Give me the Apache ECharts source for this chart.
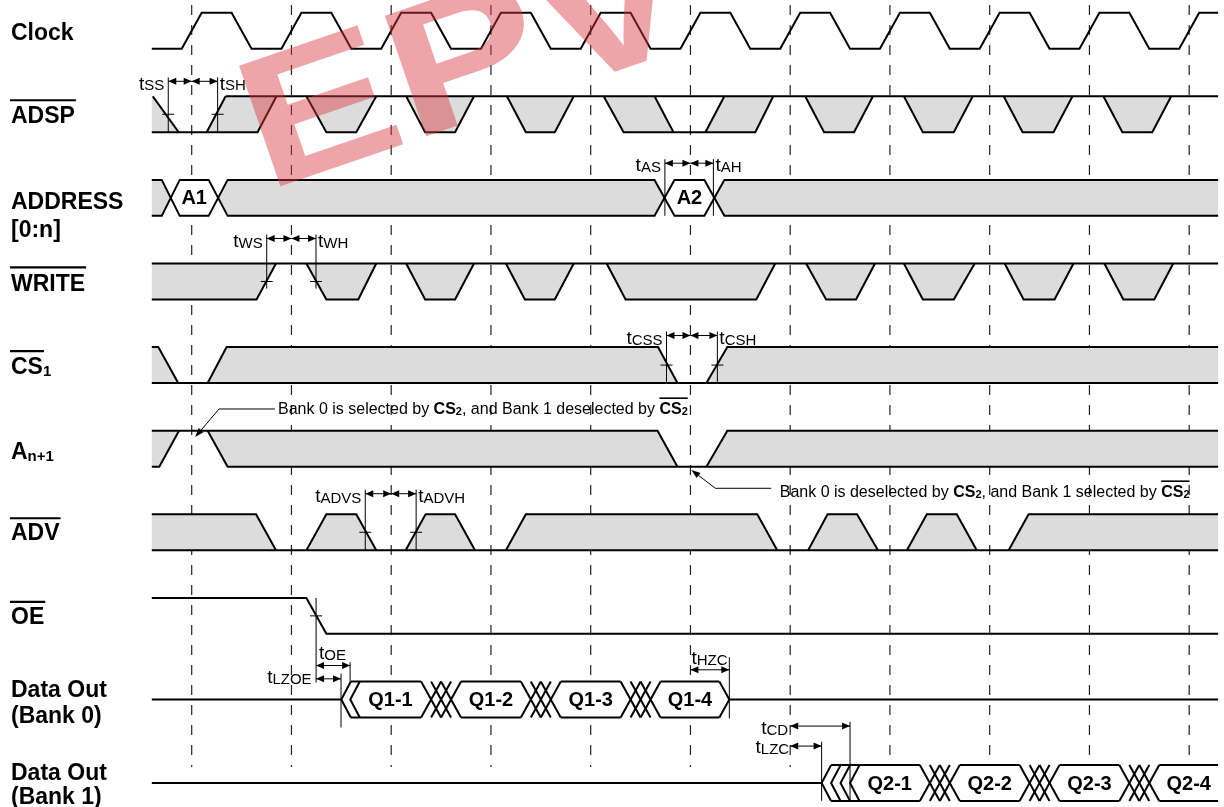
<!DOCTYPE html>
<html>
<head>
<meta charset="utf-8">
<script src="https://cdn.jsdelivr.net/npm/echarts@6/dist/echarts.min.js"></script>
<style>
html,body{margin:0;padding:0;background:#fff;}
#chart{width:1224px;height:807px;}
</style>
</head>
<body>
<div id="chart"></div>
<script>
// ================= DATA (time in units, one clock period = 10) =================
const laneLabels = ['Clock','ADSP','ADDRESS [0:n]','WRITE','CS1','An+1','ADV','OE','Data Out (Bank 0)','Data Out (Bank 1)'];
const T_START = -4, T_END = 102.9;
const gridTimes = [0,10,20,30,40,50,60,70,80,90,100];
const clockRise = [0,10,20,30,40,50,60,70,80,90,100];
const clockFall = [5,15,25,35,45,55,65,75,85,95];

// levels: 1 = high, 0 = low, 0.5 = mid
const adspFills = [
  [[-4,1],[-3.9,1],[-1.3,0],[-4,0]],
  [[1.5,0],[3.4,1],[8.5,1],[6.6,0]],
  [[41.3,1],[46.4,1],[48.3,0],[43.3,0]],
  [[51.5,0],[53.4,1],[58.3,1],[56.5,0]]
];
const adspPulses = [[11.5,13.5,16.5,18.5],[21.5,23.4,26.4,28.3],[31.6,33.5,36.4,38.3],[61.5,63.4,66.4,68.3],[71.4,73.3,76.4,78.3],[81.4,83.3,86.4,88.3],[91.4,93.3,96.3,98.2]];
const adspLines = [
  [[3.4,1],[102.9,1]],
  [[-4,0],[6.6,0],[8.5,1]],
  [[-3.9,1],[-1.3,0]],
  [[1.5,0],[3.4,1]],
  [[41.3,1],[43.3,0],[56.5,0],[58.3,1]],
  [[46.4,1],[48.3,0]],
  [[51.5,0],[53.4,1]]
];

const addrFills = [
  [[-4,1],[-3.0,1],[-2.1,0.5],[-3.0,0],[-4,0]],
  [[2.65,0.5],[3.6,1],[46.4,1],[47.4,0.5],[46.4,0],[3.6,0]],
  [[52.4,0.5],[53.4,1],[102.9,1],[102.9,0],[53.4,0]]
];
const addrHex = [
  [[-2.1,0.5],[-1.2,1],[1.7,1],[2.65,0.5],[1.7,0],[-1.2,0]],
  [[47.4,0.5],[48.4,1],[51.4,1],[52.4,0.5],[51.4,0],[48.4,0]]
];
const addrLines = [
  [[-4,1],[-3.0,1],[-1.2,0],[1.7,0],[3.6,1],[46.4,1],[48.4,0],[51.4,0],[53.4,1],[102.9,1]],
  [[-4,0],[-3.0,0],[-1.2,1],[1.7,1],[3.6,0],[46.4,0],[48.4,1],[51.4,1],[53.4,0],[102.9,0]]
];
const addrValues = ['A1','A2'];
const addrValueT = [0.25, 49.9];

const writeFills = [[[-4,1],[8.45,1],[6.5,0],[-4,0]]];
const writePulses = [[11.5,13.5,16.7,18.5],[21.5,23.4,26.4,28.3],[31.5,33.4,36.4,38.3],[41.6,43.5,56.6,58.5],[61.6,63.6,66.6,68.5],[71.4,73.3,76.4,78.5],[81.5,83.4,86.5,88.4],[91.5,93.4,96.5,98.4]];
const writeLines = [[[-4,1],[102.9,1]],[[-4,0],[6.5,0],[8.45,1]]];

const cs1Fills = [
  [[-4,1],[-3.35,1],[-1.35,0],[-4,0]],
  [[1.6,0],[3.5,1],[46.75,1],[48.7,0]],
  [[51.6,0],[53.7,1],[102.9,1],[102.9,0]]
];
const cs1Lines = [
  [[-4,0],[102.9,0]],
  [[-4,1],[-3.35,1],[-1.35,0]],
  [[1.6,0],[3.5,1],[46.75,1],[48.7,0]],
  [[51.6,0],[53.7,1],[102.9,1]]
];

const anFills = [
  [[-4,1],[-1.27,1],[-3.25,0],[-4,0]],
  [[1.6,1],[46.7,1],[48.7,0],[3.6,0]],
  [[51.6,0],[53.7,1],[102.9,1],[102.9,0]]
];
const anLines = [
  [[-4,1],[46.7,1],[48.7,0]],
  [[-4,0],[-3.25,0],[-1.27,1]],
  [[1.6,1],[3.6,0],[102.9,0]],
  [[51.6,0],[53.7,1],[102.9,1]]
];

const advFills = [
  [[-4,1],[6.45,1],[8.45,0],[-4,0]],
  [[81.9,0],[83.9,1],[102.9,1],[102.9,0]]
];
const advPulses = [[11.5,13.5,16.5,18.5],[21.45,23.45,26.4,28.4],[31.5,33.5,56.7,58.7],[61.8,63.75,66.7,68.8],[71.7,73.7,76.7,78.7]];
const advLines = [[[-4,0],[102.9,0]],[[-4,1],[6.45,1],[8.45,0]],[[81.9,0],[83.9,1],[102.9,1]]];

const oeLines = [[[-4,1],[11.5,1],[13.5,0],[102.9,0]]];

const bank0Chevrons = [15.0, 15.9];
const bank0Valid = [[15.95,23],[27,33],[37,43],[47,52.9]];
const bank0End = 53.9;
const bank0Values = ['Q1-1','Q1-2','Q1-3','Q1-4'];
const bank1Chevrons = [63.15, 64.1, 65.05, 66.0];
const bank1Valid = [[64.1,73],[77,83],[87,93],[97,102.9]];
const bank1End = null;
const bank1Values = ['Q2-1','Q2-2','Q2-3','Q2-4'];

// setup / hold markers: lane, left edge, clock edge, right edge, left label, right label
const setupHoldMarks = [
  [1, -2.35, 0, 2.6, 'SS', 'SH'],
  [2, 47.44, 50, 52.3, 'AS', 'AH'],
  [3, 7.52, 10, 12.46, 'WS', 'WH'],
  [4, 47.6, 50, 52.7, 'CSS', 'CSH'],
  [6, 17.4, 20, 22.5, 'ADVS', 'ADVH']
];
// span markers: label, from, to, lane
const spanMarks = [
  ['OE', 12.47, 15.88, 8],
  ['LZOE', 12.47, 14.97, 8],
  ['HZC', 50, 53.9, 8],
  ['CD', 60, 66.0, 9],
  ['LZC', 60, 63.15, 9]
];
const oeCrossT = 12.47;

const note1Parts = [['Bank 0 is selected by ','n'],['CS','b'],['2','s'],[', and Bank 1 deselected by ','n'],['CS','b'],['2','s']];
const note2Parts = [['Bank 0 is deselected by ','n'],['CS','b'],['2','s'],[', and Bank 1 selected by ','n'],['CS','b'],['2','s']];
const noteTipT = [0.35, 50.1];
const noteElbowT = [2.74, 52.5];
const noteLineEndT = [8.35, 58.1];
const noteTextT = [8.65, 58.95];

// ================= STYLE / LAYOUT =================
const FONT = '"Liberation Sans", Arial, Helvetica, sans-serif';
const GRAY = '#dcdcdc';
const H = 0.43;          // lane height (lane units)
const W_CHEV = 0.95;     // chevron width (time units)
const lvl = (lane, level) => lane + (1 - level) * H;

const setupHoldStyle = [
  {dy:-15, cross:true, end:0}, {dy:-16.7, cross:false, end:0}, {dy:-25, cross:true, end:0.3},
  {dy:-11.6, cross:true, end:0}, {dy:-20.6, cross:true, end:0}
];
const spanStyle = [
  {ay:-16, ly:-27.7, lx:3, align:'left', vFrom:-19.3, vTo:0},
  {ay:-2.7, ly:-3.7, lx:-4.5, align:'right', vFrom:-8, vTo:46},
  {ay:-11.7, ly:-22.7, lx:1, align:'left', vFrom:-24.3, vTo:37},
  {ay:-39, ly:-36.7, lx:-2, align:'right', vFrom:-43.3, vTo:35.7},
  {ay:-19, ly:-17.7, lx:-1, align:'right', vFrom:-23.3, vTo:35.7}
];
const noteStyle = [
  {lane:5, tipDy:6.3, elbowDy:-21.7, textDy:-21.0},
  {lane:5, tipDy:39.3, elbowDy:57.6, textDy:62.0}
];
const laneLabelLines = [
  [['{b|Clock}', 2.5]],
  [['{b|ADSP}', 2.5]],
  [['{b|ADDRESS}', 4.5], ['{b|[0:n]}', 33]],
  [['{b|WRITE}', 3]],
  [['{b|CS}{s|1}', 3]],
  [['{b|A}{s|n+1}', 4]],
  [['{b|ADV}', 1]],
  [['{b|OE}', 1.5]],
  [['{b|Data Out}', -9], ['{b|(Bank 0)}', 17]],
  [['{b|Data Out}', -9.5], ['{b|(Bank 1)}', 14.5]]
];
const overlined = {1:'ADSP', 3:'WRITE', 4:'CS', 6:'ADV', 7:'OE'};

// ================= BUILD SHAPES =================
const fillShapes = [], whiteShapes = [], lineShapes = [], valueLabels = [];
const addF = (lane, list) => list.forEach(p => fillShapes.push({lane, pts:p}));
const addW = (lane, list) => list.forEach(p => whiteShapes.push({lane, pts:p}));
const addL = (lane, list) => list.forEach(p => lineShapes.push({lane, pts:p}));
const down = q => [[q[0],1],[q[1],0],[q[2],0],[q[3],1]];
const up = q => [[q[0],0],[q[1],1],[q[2],1],[q[3],0]];

(function buildClock(){
  const ev = clockRise.map(t=>[t,1]).concat(clockFall.map(t=>[t,0])).sort((a,b)=>a[0]-b[0]);
  const p = [[T_START,0]];
  let last = 0;
  ev.forEach(([t,to]) => { p.push([t-1, 1-to],[t+1, to]); last = to; });
  p.push([T_END, last]);
  addL(0, [p]);
})();

addF(1, adspFills); addF(1, adspPulses.map(down)); addL(1, adspLines); addL(1, adspPulses.map(down));
addF(2, addrFills); addW(2, addrHex); addL(2, addrLines);
addrValues.forEach((v,i)=>valueLabels.push({lane:2, t:addrValueT[i], text:v}));
addF(3, writeFills); addF(3, writePulses.map(down)); addL(3, writeLines); addL(3, writePulses.map(down));
addF(4, cs1Fills); addL(4, cs1Lines);
addF(5, anFills); addL(5, anLines);
addF(6, advFills); addF(6, advPulses.map(up)); addL(6, advLines); addL(6, advPulses.map(up));
addL(7, oeLines);

function addBus(lane, chev, segs, endT, values){
  const w = W_CHEV;
  const lastE = segs[segs.length-1][1];
  const body = [[chev[0],0.5],[chev[0]+w,1],[lastE,1]];
  if (endT != null) body.push([endT,0.5]); else body.push([lastE,0.5]);
  body.push([lastE,0],[chev[0]+w,0]);
  addW(lane, [body]);
  addL(lane, [[[T_START,0.5],[chev[0],0.5]]]);
  chev.forEach(v => addL(lane, [[[v+w,1],[v,0.5],[v+w,0]]]));
  segs.forEach((s,i) => {
    addL(lane, [[[s[0],1],[s[1],1]], [[s[0],0],[s[1],0]]]);
    if (i < segs.length-1) {
      const a = s[1], b = segs[i+1][0], xw = 2, step = (b-a-xw)/2;
      for (let k=0;k<3;k++){
        const x0 = a + k*step;
        addL(lane, [[[x0,1],[x0+xw,0]], [[x0,0],[x0+xw,1]]]);
      }
    }
    const s0 = i===0 ? chev[chev.length-1] + w : s[0];
    valueLabels.push({lane, t:(s0+s[1])/2, text:values[i]});
  });
  if (endT != null) {
    addL(lane, [[[lastE,1],[endT,0.5],[lastE,0]], [[endT,0.5],[T_END,0.5]]]);
  }
}
addBus(8, bank0Chevrons, bank0Valid, bank0End, bank0Values);
addBus(9, bank1Chevrons, bank1Valid, bank1End, bank1Values);

// ================= HELPERS =================
const mctx = document.createElement('canvas').getContext('2d');
function textW(str, font){ mctx.font = font; return mctx.measureText(str).width; }
const pts = (api, lane, list) => list.map(p => api.coord([p[0], lvl(lane, p[1])]));
function hline(x1, x2, y, w){ return {type:'line', shape:{x1, y1:y, x2, y2:y}, style:{stroke:'#000', lineWidth:w||1}}; }
function vline(x, y1, y2){ return {type:'line', shape:{x1:x, y1, x2:x, y2}, style:{stroke:'#000', lineWidth:1}}; }
function arrow(x1, x2, y){
  const L = 8, hw = 3.5;
  return [hline(x1, x2, y),
    {type:'polygon', shape:{points:[[x1,y],[x1+L,y-hw],[x1+L,y+hw]]}, style:{fill:'#000'}},
    {type:'polygon', shape:{points:[[x2,y],[x2-L,y-hw],[x2-L,y+hw]]}, style:{fill:'#000'}}];
}
const tRich = {
  t:{fontSize:19, fontFamily:FONT, fill:'#000', verticalAlign:'bottom'},
  s:{fontSize:15, fontFamily:FONT, fill:'#000', verticalAlign:'bottom'}
};
function tLabel(x, y, sub, align){
  return {type:'text', x, y, style:{text:'{t|t}{s|'+sub+'}', rich:tRich, align, verticalAlign:'middle', fill:'#000'}};
}
const noteRich = {
  n:{fontSize:16, fontFamily:FONT, fill:'#000', verticalAlign:'bottom'},
  b:{fontSize:16, fontFamily:FONT, fontWeight:'bold', fill:'#000', verticalAlign:'bottom'},
  s:{fontSize:11, fontFamily:FONT, fontWeight:'bold', fill:'#000', verticalAlign:'bottom'}
};
const noteFont = {n:'16px '+FONT, b:'bold 16px '+FONT, s:'bold 11px '+FONT};

// ================= RENDERERS =================
function renderDashed(params, api){
  const t = gridTimes[params.dataIndex];
  const a = api.coord([t, -0.092]), b = api.coord([t, 9.023]);
  return {type:'line', shape:{x1:a[0], y1:a[1], x2:b[0], y2:b[1]}, style:{stroke:'#222', lineWidth:1.2, lineDash:[10,10]}};
}
function renderFill(params, api){
  const s = fillShapes[params.dataIndex];
  return {type:'polygon', shape:{points:pts(api, s.lane, s.pts)}, style:{fill:GRAY}};
}
function renderWhite(params, api){
  const s = whiteShapes[params.dataIndex];
  return {type:'polygon', shape:{points:pts(api, s.lane, s.pts)}, style:{fill:'#fff'}};
}
function renderLine(params, api){
  const s = lineShapes[params.dataIndex];
  return {type:'polyline', shape:{points:pts(api, s.lane, s.pts)}, style:{stroke:'#000', lineWidth:2, fill:'none'}};
}
function renderValue(params, api){
  const v = valueLabels[params.dataIndex];
  const p = api.coord([v.t, lvl(v.lane, 0.5)]);
  return {type:'text', x:p[0], y:p[1]+1, style:{text:v.text, font:'bold 20px '+FONT, fill:'#000', align:'center', verticalAlign:'middle'}};
}
function renderSetupHold(params, api){
  const [lane, tl, tc, tr, ll, rl] = setupHoldMarks[params.dataIndex];
  const st = setupHoldStyle[params.dataIndex];
  const top = api.coord([tc, lane])[1];
  const ay = top + st.dy;
  const xl = api.coord([tl, lane])[0], xc = api.coord([tc, lane])[0], xr = api.coord([tr, lane])[0];
  const yEnd = api.coord([tc, lvl(lane, st.end)])[1];
  const ym = api.coord([tc, lvl(lane, 0.5)])[1];
  const ch = [vline(xl, ay-4, yEnd), vline(xr, ay-4, yEnd)];
  ch.push(...arrow(xl, xc, ay), ...arrow(xc, xr, ay));
  if (st.cross) { ch.push(hline(xl-6, xl+6, ym), hline(xr-6, xr+6, ym)); }
  ch.push(tLabel(xl-4, ay+3, ll, 'right'), tLabel(xr+2, ay+3, rl, 'left'));
  return {type:'group', children:ch};
}
function renderSpan(params, api){
  const [lab, t1, t2, lane] = spanMarks[params.dataIndex];
  const st = spanStyle[params.dataIndex];
  const top = api.coord([t1, lane])[1];
  const x1 = api.coord([t1, lane])[0], x2 = api.coord([t2, lane])[0];
  const ch = [vline(x2, top+st.vFrom, top+st.vTo)];
  ch.push(...arrow(x1, x2, top+st.ay));
  ch.push(tLabel(x1+st.lx, top+st.ly, lab, st.align));
  if (params.dataIndex === 0) {
    const p = api.coord([oeCrossT, lvl(7, 0.5)]);
    const y7 = api.coord([oeCrossT, 7])[1];
    ch.push(vline(p[0], y7, top+1), hline(p[0]-6, p[0]+6, p[1]));
  }
  return {type:'group', children:ch};
}
function renderNote(params, api){
  const i = params.dataIndex;
  const parts = i === 0 ? note1Parts : note2Parts;
  const st = noteStyle[i];
  const top = api.coord([0, st.lane])[1];
  const tip = [api.coord([noteTipT[i], st.lane])[0], top + st.tipDy];
  const elb = [api.coord([noteElbowT[i], st.lane])[0], top + st.elbowDy];
  const lend = api.coord([noteLineEndT[i], st.lane])[0];
  const tx = api.coord([noteTextT[i], st.lane])[0];
  const ty = top + st.textDy;
  const dx = tip[0]-elb[0], dy = tip[1]-elb[1], len = Math.hypot(dx, dy);
  const ux = dx/len, uy = dy/len, L = 9, hw = 3.2;
  const bx = tip[0]-ux*L, by = tip[1]-uy*L;
  const ch = [
    {type:'polyline', shape:{points:[[lend, elb[1]], elb, [bx, by]]}, style:{stroke:'#000', lineWidth:1, fill:'none'}},
    {type:'polygon', shape:{points:[tip, [bx-uy*hw, by+ux*hw], [bx+uy*hw, by-ux*hw]]}, style:{fill:'#000'}}
  ];
  const text = parts.map(p => '{'+p[1]+'|'+p[0]+'}').join('');
  ch.push({type:'text', x:tx, y:ty, style:{text, rich:noteRich, align:'left', verticalAlign:'middle'}});
  let pre = 0;
  for (let k=0;k<parts.length-2;k++) pre += textW(parts[k][0], noteFont[parts[k][1]]);
  const wcs = textW('CS', noteFont.b) + textW('2', noteFont.s);
  ch.push(hline(tx+pre, tx+pre+wcs, ty-11.5, 1.6));
  return {type:'group', children:ch};
}
function renderLaneLabel(params, api){
  const lane = params.dataIndex;
  const mid = api.coord([T_START, lvl(lane, 0.5)])[1];
  const ch = [];
  laneLabelLines[lane].forEach(([txt, dy]) => {
    ch.push({type:'text', x:11, y:mid+dy, style:{text:txt, align:'left', verticalAlign:'middle',
      rich:{b:{fontSize:23, fontWeight:'bold', fontFamily:FONT, fill:'#000', verticalAlign:'bottom'},
            s:{fontSize:15, fontWeight:'bold', fontFamily:FONT, fill:'#000', verticalAlign:'bottom'}}}});
  });
  if (overlined[lane]) {
    const w = textW(overlined[lane], 'bold 23px '+FONT);
    ch.push(hline(10, 11+w+1, mid-14, 2.2));
  }
  return {type:'group', children:ch};
}

const myChart = echarts.init(document.getElementById('chart'));
const base = {type:'custom', coordinateSystem:'cartesian2d', clip:false, silent:true, animation:false};
myChart.setOption({
  animation:false,
  backgroundColor:'#fff',
  grid:{left:151.8, right:1.9, top:0, bottom:0},
  xAxis:{type:'value', min:T_START, max:103.3, show:false},
  yAxis:{type:'value', min:-0.1519, max:9.5013, inverse:true, show:false},
  series:[
    Object.assign({}, base, {z:1, data:gridTimes.map(t=>[t, 0]), renderItem:renderDashed}),
    Object.assign({}, base, {z:2, data:fillShapes.map(s=>[s.pts[0][0], s.lane]), renderItem:renderFill}),
    Object.assign({}, base, {z:2, data:whiteShapes.map(s=>[s.pts[0][0], s.lane]), renderItem:renderWhite}),
    Object.assign({}, base, {z:3, data:lineShapes.map(s=>[s.pts[0][0], s.lane]), renderItem:renderLine}),
    Object.assign({}, base, {z:4, data:valueLabels.map(v=>[v.t, v.lane]), renderItem:renderValue}),
    Object.assign({}, base, {z:4, data:setupHoldMarks.map(m=>[m[2], m[0]]), renderItem:renderSetupHold}),
    Object.assign({}, base, {z:4, data:spanMarks.map(m=>[m[1], m[3]]), renderItem:renderSpan}),
    Object.assign({}, base, {z:4, data:noteTipT.map((t,i)=>[t, noteStyle[i].lane]), renderItem:renderNote}),
    Object.assign({}, base, {z:5, data:laneLabels.map((n,i)=>[T_START, i]), renderItem:renderLaneLabel})
  ],
  graphic:[{
    type:'text', x:468, y:68, rotation:0.33, scaleX:1.25, z:100, silent:true,
    style:{text:'EPV', font:'bold 185px '+FONT, fill:'rgba(215,55,65,0.45)', align:'center', verticalAlign:'middle'}
  }]
});
</script>
</body>
</html>
